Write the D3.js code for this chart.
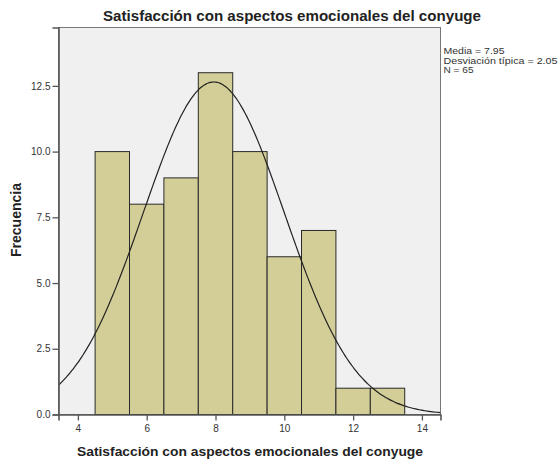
<!DOCTYPE html>
<html>
<head>
<meta charset="utf-8">
<script src="https://cdn.jsdelivr.net/npm/d3@7"></script>
<style>
  body { margin: 0; background: #fff; }
  svg text { font-family: "Liberation Sans", Arial, sans-serif; fill: #222; }
</style>
</head>
<body>
<svg id="chart" width="560" height="463"></svg>
<script>
// histogram bins (lower / upper edges) and frequencies
const binLow = [4.5, 5.5, 6.5, 7.5, 8.5, 9.5, 10.5, 11.5, 12.5];
const binHigh = [5.5, 6.5, 7.5, 8.5, 9.5, 10.5, 11.5, 12.5, 13.5];
const counts = [10, 8, 9, 13, 10, 6, 7, 1, 1];

// summary stats printed next to the plot
const mean = 7.95;
const sd = 2.05;
const n = 65;

const xTicks = [4, 6, 8, 10, 12, 14];
const yTicks = [0, 2.5, 5, 7.5, 10, 12.5];

const title = "Satisfacción con aspectos emocionales del conyuge";
const xTitle = "Satisfacción con aspectos emocionales del conyuge";
const yTitle = "Frecuencia";
const statLines = ["Media = " + mean.toFixed(2), "Desviación típica = " + sd.toFixed(2), "N = " + n];

const svg = d3.select("#chart");

const plotL = 58.5, plotR = 440.5, plotT = 27.5, plotB = 414.5;

const x = d3.scaleLinear().domain([3.436, 14.54]).range([plotL, plotR]);
const y = d3.scaleLinear().domain([0, 14.72]).range([plotB, plotT]);

// plot background
svg.append("rect")
    .attr("x", plotL).attr("y", plotT)
    .attr("width", plotR - plotL).attr("height", plotB - plotT)
    .style("fill", "#f0f0f0")
    .style("stroke", "#777")
    .style("stroke-width", 1);

svg.append("clipPath").attr("id", "clip")
    .append("rect")
    .attr("x", plotL).attr("y", plotT)
    .attr("width", plotR - plotL).attr("height", plotB - plotT);

// bars
svg.selectAll(".bar").data(counts).enter().append("rect")
    .attr("class", "bar")
    .attr("x", (d, i) => x(binLow[i]))
    .attr("width", (d, i) => x(binHigh[i]) - x(binLow[i]))
    .attr("y", (d) => y(d))
    .attr("height", (d) => y(0) - y(d))
    .style("fill", "#d3ce97")
    .style("stroke", "#2a2a2a")
    .style("stroke-width", 1);

// normal curve from the stats (bin width 1)
const binWidth = binHigh[0] - binLow[0];
const pdf = (v) => n * binWidth / (sd * Math.sqrt(2 * Math.PI)) * Math.exp(-0.5 * Math.pow((v - mean) / sd, 2));
const curveX = d3.range(200).map((i) => x.domain()[0] + i * (x.domain()[1] - x.domain()[0]) / 199);

svg.append("path")
    .datum(curveX)
    .attr("clip-path", "url(#clip)")
    .attr("d", d3.line().x((d) => x(d)).y((d) => y(pdf(d))).curve(d3.curveBasis))
    .style("fill", "none")
    .style("stroke", "#222")
    .style("stroke-width", 1.2);

// axes
const yAxis = svg.append("g")
    .attr("transform", `translate(${plotL},0)`)
    .call(d3.axisLeft(y).tickValues(yTicks).tickFormat(d3.format(".1f")).tickSize(6).tickPadding(2));

const xAxis = svg.append("g")
    .attr("transform", `translate(0,${plotB})`)
    .call(d3.axisBottom(x).tickValues(xTicks).tickFormat(d3.format("d")).tickSize(6).tickPadding(4));

[xAxis, yAxis].forEach((g) => {
    g.select(".domain").style("stroke", "#555").style("stroke-width", 1.6);
    g.selectAll(".tick line").style("stroke", "#555").style("stroke-width", 1.3);
    g.selectAll(".tick text")
        .style("font-family", '"Liberation Sans", Arial, sans-serif')
        .style("font-size", "10px")
        .style("fill", "#333");
});

// titles
svg.append("text")
    .attr("x", 103).attr("y", 20.5)
    .attr("textLength", 378).attr("lengthAdjust", "spacingAndGlyphs")
    .style("font-size", "15px").style("font-weight", "bold")
    .text(title);

svg.append("text")
    .attr("x", 77).attr("y", 455.5)
    .attr("textLength", 346).attr("lengthAdjust", "spacingAndGlyphs")
    .style("font-size", "12.5px").style("font-weight", "bold")
    .text(xTitle);

svg.append("text")
    .attr("transform", "translate(20.5,220) rotate(-90)")
    .attr("text-anchor", "middle")
    .style("font-size", "14px").style("font-weight", "bold")
    .text(yTitle);

// stats box
const statWidths = [61, 114, 30];
svg.selectAll(".stat").data(statLines).enter().append("text")
    .attr("class", "stat")
    .attr("x", 443.5)
    .attr("y", (d, i) => 54 + i * 9.5)
    .attr("textLength", (d, i) => statWidths[i])
    .attr("lengthAdjust", "spacingAndGlyphs")
    .style("font-size", "8.2px")
    .style("fill", "#333")
    .text((d) => d);
</script>
</body>
</html>
